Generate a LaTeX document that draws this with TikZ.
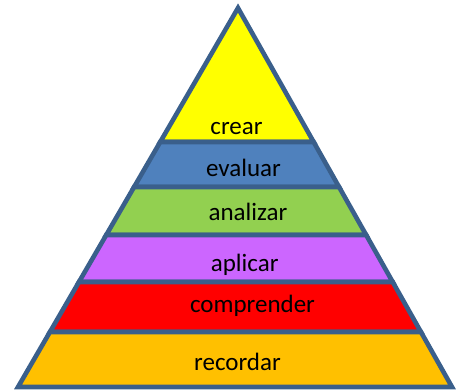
\documentclass[tikz,border=0pt]{standalone}
\usepackage{fontspec}
\setmainfont{Carlito}
\usepackage{tikz}
\definecolor{edgeblue}{HTML}{3A5F8B}
\definecolor{crearcol}{HTML}{FFFF00}
\definecolor{evaluarcol}{HTML}{4F81BD}
\definecolor{analizarcol}{HTML}{92D050}
\definecolor{aplicarcol}{HTML}{CC66FF}
\definecolor{comprendercol}{HTML}{FF0000}
\definecolor{recordarcol}{HTML}{FFC000}
\tikzstyle{layer}=[draw=edgeblue, line width=2.3pt, line join=miter]
\tikzstyle{layerlabel}=[anchor=base, inner sep=0, outer sep=0,
                        font=\fontsize{12.5}{15}\selectfont]

\begin{document}
\begin{tikzpicture}[x=0.5pt, y=-0.5pt]
    \useasboundingbox (0,0) rectangle (456,390);
    % top of the pyramid
    \coordinate (apex) at (238,8);
    \coordinate (crearL) at ({238-134/379*220},142);
    \coordinate (crearR) at ({238+134/379*214},142);
    \filldraw[layer, fill=crearcol] (apex) -- (crearR) -- (crearL) -- cycle;
    \node[layerlabel] (crear) at (236.5,135) {crear};
    % the bands below it
    \foreach \top/\bot/\col/\lab/\tx/\ty in {142/187/evaluarcol/evaluar/243.5/177,
                                        187/235/analizarcol/analizar/248/221,
                                        235/282/aplicarcol/aplicar/244.7/271,
                                        282/332/comprendercol/comprender/252.5/313,
                                        332/387/recordarcol/recordar/237.5/371}{
        \filldraw[layer, fill=\col]
            ({238-(\top-8)/379*220},\top) -- ({238+(\top-8)/379*214},\top)
            -- ({238+(\bot-8)/379*214},\bot) -- ({238-(\bot-8)/379*220},\bot) -- cycle;
        \node[layerlabel] (\lab) at (\tx,\ty) {\lab};
    }
\end{tikzpicture}
\end{document}
